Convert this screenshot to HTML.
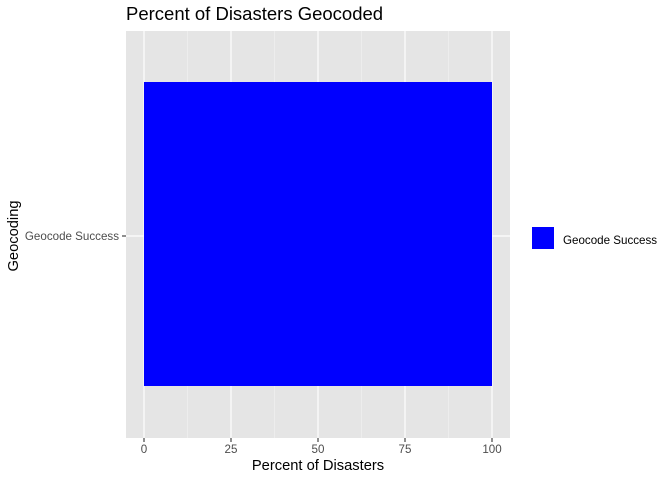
<!DOCTYPE html>
<html><head><style>body{margin:0;background:#fff}</style></head><body>
<svg width="672" height="480" xmlns="http://www.w3.org/2000/svg" font-family="Liberation Sans, sans-serif">
<rect x="0" y="0" width="672" height="480" fill="#fff"/>
<rect x="126" y="31" width="384" height="407" fill="#e5e5e5"/>
<g stroke="#f2f2f2" stroke-width="0.6">
<line x1="187.5" y1="31" x2="187.5" y2="438"/><line x1="274.5" y1="31" x2="274.5" y2="438"/>
<line x1="361.5" y1="31" x2="361.5" y2="438"/><line x1="448.5" y1="31" x2="448.5" y2="438"/>
</g>
<g stroke="#fff" stroke-width="1.2">
<line x1="144" y1="31" x2="144" y2="438"/><line x1="231" y1="31" x2="231" y2="438"/>
<line x1="318" y1="31" x2="318" y2="438"/><line x1="405" y1="31" x2="405" y2="438"/>
<line x1="492" y1="31" x2="492" y2="438"/><line x1="126" y1="236" x2="510" y2="236"/>
</g>
<rect x="144" y="82" width="348" height="304" fill="#0000ff"/>
<g stroke="#333" stroke-width="1.1">
<line x1="144" y1="438" x2="144" y2="442"/><line x1="231" y1="438" x2="231" y2="442"/>
<line x1="318" y1="438" x2="318" y2="442"/><line x1="405" y1="438" x2="405" y2="442"/>
<line x1="492" y1="438" x2="492" y2="442"/><line x1="122" y1="236" x2="126" y2="236"/>
</g>
<g font-size="11.6" fill="#4d4d4d" text-anchor="middle">
<text x="144" y="453">0</text><text x="231" y="453">25</text><text x="318" y="453">50</text>
<text x="405" y="453">75</text><text x="492" y="453">100</text>
<text x="119" y="240" text-anchor="end">Geocode Success</text>
</g>
<text x="318" y="470" font-size="14.7" text-anchor="middle">Percent of Disasters</text>
<text x="18" y="236" font-size="14.7" text-anchor="middle" transform="rotate(-90 18 236)">Geocoding</text>
<text x="126" y="20" font-size="18.5">Percent of Disasters Geocoded</text>
<rect x="532" y="227" width="22" height="22" fill="#0000ff"/>
<text x="563" y="244" font-size="11.6">Geocode Success</text>
</svg>
</body></html>
